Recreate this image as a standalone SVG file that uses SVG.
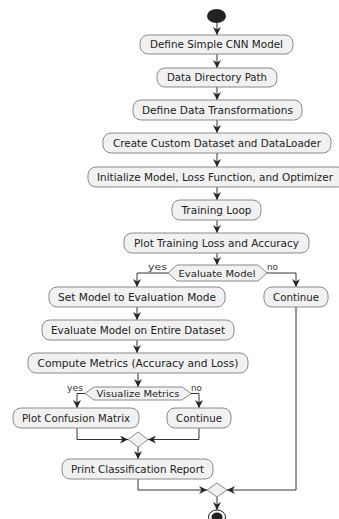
<svg xmlns="http://www.w3.org/2000/svg" width="339" height="519" viewBox="0 0 339 519">
<style>
.box{fill:#f1f1f1;stroke:#8a8a8a;stroke-width:1}
.t{font-family:"DejaVu Sans",sans-serif;font-size:10px;fill:#222;text-anchor:middle}
.l{font-family:"DejaVu Sans",sans-serif;font-size:8.5px;fill:#333}
.c{fill:none;stroke:#333;stroke-width:1}
</style>
<defs>
<marker id="ah" markerUnits="userSpaceOnUse" markerWidth="8" markerHeight="8" viewBox="0 0 8 8" refX="8" refY="4" orient="auto">
<path d="M0,0 L8,4 L0,8 L2.5,4 z" fill="#222"/>
</marker>
</defs>
<rect width="339" height="519" fill="#fff"/>
<g id="connectors">
<path class="c" d="M217,23 V35" marker-end="url(#ah)"/>
<path class="c" d="M217,54 V68" marker-end="url(#ah)"/>
<path class="c" d="M217,87 V100" marker-end="url(#ah)"/>
<path class="c" d="M217,120 V133" marker-end="url(#ah)"/>
<path class="c" d="M217,153 V167" marker-end="url(#ah)"/>
<path class="c" d="M217,187 V200" marker-end="url(#ah)"/>
<path class="c" d="M217,220 V233" marker-end="url(#ah)"/>
<path class="c" d="M217,253 V265" marker-end="url(#ah)"/>
<path class="c" d="M168,273 H137 V287" marker-end="url(#ah)"/>
<path class="c" d="M267,273 H296 V287" marker-end="url(#ah)"/>
<path class="c" d="M137,307 V320" marker-end="url(#ah)"/>
<path class="c" d="M137,340 V353" marker-end="url(#ah)"/>
<path class="c" d="M138,373 V387" marker-end="url(#ah)"/>
<path class="c" d="M85,393.5 H77 V408" marker-end="url(#ah)"/>
<path class="c" d="M191,393.5 H199 V408" marker-end="url(#ah)"/>
<path class="c" d="M77,428 V439.5 H128" marker-end="url(#ah)"/>
<path class="c" d="M199,428 V439.5 H148" marker-end="url(#ah)"/>
<path class="c" d="M138,447 V459" marker-end="url(#ah)"/>
<path class="c" d="M138,479 V490 H207" marker-end="url(#ah)"/>
<path class="c" d="M296,307 V490 H227" marker-end="url(#ah)"/>
<path class="c" d="M217,497 V510" marker-end="url(#ah)"/>
<text class="l" x="148" y="270" textLength="19" lengthAdjust="spacingAndGlyphs">yes</text>
<text class="l" x="267" y="270" textLength="11" lengthAdjust="spacingAndGlyphs">no</text>
<text class="l" x="67" y="391" textLength="16" lengthAdjust="spacingAndGlyphs">yes</text>
<text class="l" x="191" y="391" textLength="11" lengthAdjust="spacingAndGlyphs">no</text>
</g>
<g id="start"><ellipse cx="216.5" cy="16" rx="9.5" ry="7" fill="#222"/></g>
<g id="n1"><rect class="box" x="140" y="35" width="153" height="19" rx="8"/><text class="t" x="216.5" y="48" textLength="133" lengthAdjust="spacingAndGlyphs">Define Simple CNN Model</text></g>
<g id="n2"><rect class="box" x="157" y="68" width="120" height="19" rx="8"/><text class="t" x="217" y="81" textLength="100" lengthAdjust="spacingAndGlyphs">Data Directory Path</text></g>
<g id="n3"><rect class="box" x="133" y="100" width="169" height="20" rx="8"/><text class="t" x="217.5" y="113.5" textLength="151" lengthAdjust="spacingAndGlyphs">Define Data Transformations</text></g>
<g id="n4"><rect class="box" x="103" y="133" width="228" height="20" rx="8"/><text class="t" x="217" y="146.5" textLength="208" lengthAdjust="spacingAndGlyphs">Create Custom Dataset and DataLoader</text></g>
<g id="n5"><rect class="box" x="88" y="167" width="258" height="20" rx="8"/><text class="t" x="215" y="180.5" textLength="236" lengthAdjust="spacingAndGlyphs">Initialize Model, Loss Function, and Optimizer</text></g>
<g id="n6"><rect class="box" x="172" y="200" width="89" height="20" rx="8"/><text class="t" x="216.5" y="213.5" textLength="70" lengthAdjust="spacingAndGlyphs">Training Loop</text></g>
<g id="n7"><rect class="box" x="124" y="233" width="185" height="20" rx="8"/><text class="t" x="216.5" y="246.5" textLength="165" lengthAdjust="spacingAndGlyphs">Plot Training Loss and Accuracy</text></g>
<g id="d1"><polygon class="box" points="168,273 177,265 258,265 267,273 258,281 177,281"/><text class="t" x="217" y="276.5" style="font-size:9px" textLength="77" lengthAdjust="spacingAndGlyphs">Evaluate Model</text></g>
<g id="n8"><rect class="box" x="49" y="287" width="176" height="20" rx="8"/><text class="t" x="137" y="300.5" textLength="158" lengthAdjust="spacingAndGlyphs">Set Model to Evaluation Mode</text></g>
<g id="n9"><rect class="box" x="264" y="287" width="64" height="20" rx="8"/><text class="t" x="296" y="300.5" textLength="46" lengthAdjust="spacingAndGlyphs">Continue</text></g>
<g id="n10"><rect class="box" x="42" y="320" width="192" height="20" rx="8"/><text class="t" x="138" y="333.5" textLength="174" lengthAdjust="spacingAndGlyphs">Evaluate Model on Entire Dataset</text></g>
<g id="n11"><rect class="box" x="28" y="353" width="220" height="20" rx="8"/><text class="t" x="138" y="366.5" textLength="201" lengthAdjust="spacingAndGlyphs">Compute Metrics (Accuracy and Loss)</text></g>
<g id="d2"><polygon class="box" points="85,393.5 94,387 182,387 191,393.5 182,400 94,400"/><text class="t" x="138" y="396.8" style="font-size:9px" textLength="83" lengthAdjust="spacingAndGlyphs">Visualize Metrics</text></g>
<g id="n12"><rect class="box" x="13" y="408" width="126" height="20" rx="8"/><text class="t" x="76" y="421.5" textLength="108" lengthAdjust="spacingAndGlyphs">Plot Confusion Matrix</text></g>
<g id="n13"><rect class="box" x="167" y="408" width="64" height="20" rx="8"/><text class="t" x="199" y="421.5" textLength="46" lengthAdjust="spacingAndGlyphs">Continue</text></g>
<g id="m1"><polygon class="box" points="128,439.5 138,432 148,439.5 138,447"/></g>
<g id="n14"><rect class="box" x="62" y="459" width="151" height="20" rx="8"/><text class="t" x="137.5" y="472.5" textLength="133" lengthAdjust="spacingAndGlyphs">Print Classification Report</text></g>
<g id="m2"><polygon class="box" points="207,490 217,483 227,490 217,497"/></g>
<g id="end"><ellipse cx="217" cy="517" rx="8.5" ry="7" fill="#fff" stroke="#222" stroke-width="1"/><ellipse cx="217" cy="517" rx="5.5" ry="4.5" fill="#222"/></g>
</svg>
